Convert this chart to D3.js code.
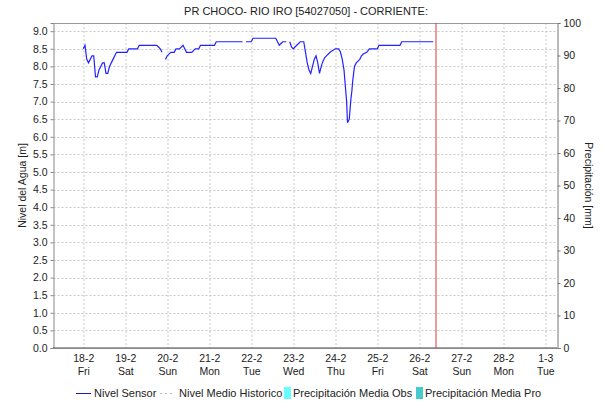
<!DOCTYPE html>
<html>
<head>
<meta charset="utf-8">
<script src="https://cdn.jsdelivr.net/npm/d3@7"></script>
<style>
  body { margin: 0; background: #fff; }
  text { font-family: "Liberation Sans", Arial, sans-serif; fill: #222; }
</style>
</head>
<body>
<svg id="chart" width="603" height="404"></svg>
<script>
// level readings of the sensor (null = no data, breaks the line)
const sensorTimes = [
  "02-18 00:00", "02-18 01:00", "02-18 02:00", "02-18 03:00", "02-18 04:00", "02-18 05:00",
  "02-18 06:00", "02-18 07:00", "02-18 08:00", "02-18 09:00", "02-18 10:00", "02-18 11:00",
  "02-18 12:00", "02-18 13:00", "02-18 14:00", "02-18 15:00", "02-18 16:00", "02-18 17:00",
  "02-18 18:00", "02-18 19:00", "02-19 01:00", "02-19 02:00", "02-19 07:00", "02-19 08:00",
  "02-19 18:00", "02-19 19:00", "02-19 20:00", "02-19 21:00", "02-19 22:00", "02-19 23:00",
  "02-20 00:00", "02-20 01:00", "02-20 02:00", "02-20 04:00", "02-20 05:00", "02-20 07:00",
  "02-20 09:00", "02-20 10:00", "02-20 11:00", "02-20 14:00", "02-20 16:00", "02-20 18:00",
  "02-20 19:00", "02-21 03:00", "02-21 04:00", "02-21 19:00", "02-21 20:00", "02-21 21:00",
  "02-22 00:00", "02-22 01:00", "02-22 14:00", "02-22 16:00", "02-22 17:00", "02-22 18:00",
  "02-22 20:00", "02-22 21:00", "02-22 22:00", "02-22 23:00", "02-23 00:00", "02-23 01:00",
  "02-23 02:00", "02-23 04:00", "02-23 06:00", "02-23 07:00", "02-23 08:00", "02-23 09:00",
  "02-23 10:00", "02-23 11:00", "02-23 12:00", "02-23 13:00", "02-23 14:00", "02-23 15:00",
  "02-23 16:00", "02-23 17:00", "02-23 18:00", "02-23 19:00", "02-23 21:00", "02-24 00:00",
  "02-24 02:00", "02-24 03:00", "02-24 04:00", "02-24 05:00", "02-24 05:30", "02-24 06:00",
  "02-24 06:30", "02-24 07:00", "02-24 08:00", "02-24 08:30", "02-24 09:00", "02-24 09:30",
  "02-24 10:00", "02-24 10:30", "02-24 11:00", "02-24 12:00", "02-24 14:00", "02-24 15:00",
  "02-24 16:00", "02-24 18:00", "02-24 19:30", "02-25 00:00", "02-25 01:00", "02-25 13:00",
  "02-25 14:00", "02-26 08:00"
];
const sensorLevels = [
  8.5, 8.6, 8.2, 8.1, 8.2, 8.3,
  8.3, 7.7, 7.7, 7.9, 8.0, 8.1,
  8.1, 7.8, 7.8, 8.0, 8.1, 8.2,
  8.3, 8.4, 8.4, 8.5, 8.5, 8.6,
  8.6, 8.55, 8.5, 8.4, null, 8.2,
  8.3, 8.35, 8.4, 8.4, 8.5, 8.5,
  8.6, 8.5, 8.4, 8.4, 8.5, 8.5,
  8.6, 8.6, 8.7, 8.7, null, 8.7,
  8.7, 8.8, 8.8, 8.6, 8.65, 8.7,
  8.7, null, 8.7, 8.55, 8.5, 8.55,
  8.6, 8.7, 8.7, 8.4, 8.1, 7.9,
  7.8, 8.0, 8.2, 8.3, 8.1, 7.8,
  8.0, 8.15, 8.25, 8.3, 8.4, 8.5,
  8.5, 8.4, 8.2, 7.9, 7.6, 7.3,
  7.0, 6.4, 6.5, 6.8, 7.1, 7.3,
  7.6, 7.8, 8.0, 8.1, 8.2, 8.3,
  8.35, 8.4, 8.5, 8.5, 8.6, 8.6,
  8.7, 8.7
];
const levelTicks = d3.range(0, 9.01, 0.5);
const precipTicks = d3.range(0, 101, 10);
const dayNames = ["Sun", "Mon", "Tue", "Wed", "Thu", "Fri", "Sat"];
const nowTime = "02-26 09:00";
const startTime = "02-17 07:00";
const endTime = "03-01 07:00";

const parse = (s) => d3.timeParse("%Y-%m-%d %H:%M")("2022-" + s);

const margin = { top: 23, right: 45.5, bottom: 56, left: 53.5 };
const width = 603 - margin.left - margin.right;
const height = 404 - margin.top - margin.bottom;

const svg = d3.select("#chart");
svg.append("rect").attr("width", 603).attr("height", 404).attr("fill", "#fff");

const g = svg.append("g").attr("transform", `translate(${margin.left},${margin.top})`);

const x = d3.scaleTime().domain([parse(startTime), parse(endTime)]).range([0, width]);
const y = d3.scaleLinear().domain([0, 9.233]).range([height, 0]);
const yPrecip = d3.scaleLinear().domain([0, 100]).range([height, 0]);

const days = d3.timeDay.range(parse("02-18 00:00"), parse(endTime));

// grid
g.append("g")
  .selectAll("line")
  .data(days)
  .join("line")
  .attr("x1", (d) => Math.round(x(d)) + 0.5)
  .attr("x2", (d) => Math.round(x(d)) + 0.5)
  .attr("y1", 0)
  .attr("y2", height)
  .attr("stroke", "#c8c8c8")
  .attr("stroke-dasharray", "2,2");

g.append("g")
  .selectAll("line")
  .data(levelTicks.slice(1))
  .join("line")
  .attr("x1", 0)
  .attr("x2", width)
  .attr("y1", (d) => Math.round(y(d)) + 0.5)
  .attr("y2", (d) => Math.round(y(d)) + 0.5)
  .attr("stroke", "#c8c8c8")
  .attr("stroke-dasharray", "2,2");

// frame
g.append("line").attr("x1", 0).attr("x2", width).attr("y1", 0.5).attr("y2", 0.5).attr("stroke", "#999");

// left axis
const yAxis = g.append("g")
  .call(d3.axisLeft(y).tickValues(levelTicks).tickFormat(d3.format(".1f")).tickSize(3).tickPadding(3));
yAxis.select(".domain").attr("stroke", "#888");
yAxis.selectAll(".tick line").attr("stroke", "#888");
yAxis.selectAll("text").style("font-size", "10.5px").attr("fill", "#222");

// right axis
const yAxisR = g.append("g")
  .attr("transform", `translate(${width},0)`)
  .call(d3.axisRight(yPrecip).tickValues(precipTicks).tickSize(3).tickPadding(3));
yAxisR.select(".domain").attr("stroke", "#777");
yAxisR.selectAll(".tick line").attr("stroke", "#777");
yAxisR.selectAll("text").style("font-size", "10.5px").attr("fill", "#222");

// bottom axis
const xAxis = g.append("g")
  .attr("transform", `translate(0,${height})`)
  .call(d3.axisBottom(x).tickValues(days).tickSize(0).tickFormat(""));
xAxis.select(".domain").attr("stroke", "#888");
xAxis.selectAll(".tick").each(function (d) {
  const t = d3.select(this).append("text")
    .attr("text-anchor", "middle")
    .style("font-size", "10.5px")
    .attr("fill", "#222");
  t.append("tspan").attr("x", 0).attr("y", 14).text(d3.timeFormat("%-d-%-m")(d));
  t.append("tspan").attr("x", 0).attr("y", 27).text(dayNames[d.getDay()]);
});

// historic mean / zero precipitation along the base
g.append("line")
  .attr("x1", 0).attr("x2", width)
  .attr("y1", y(0) - 0.5).attr("y2", y(0) - 0.5)
  .attr("stroke", "#444")
  .attr("stroke-dasharray", "1,1");

// sensor line
const sensorData = sensorTimes.map((t, i) => ({ date: parse(t), value: sensorLevels[i] }));
const line = d3.line()
  .defined((d) => d.value !== null)
  .x((d) => x(d.date))
  .y((d) => y(d.value));

g.append("path")
  .datum(sensorData)
  .attr("fill", "none")
  .attr("stroke", "#2222ff")
  .attr("stroke-width", 1.2)
  .attr("d", line);

// current time marker
g.append("line")
  .attr("x1", Math.round(x(parse(nowTime))) + 0.5)
  .attr("x2", Math.round(x(parse(nowTime))) + 0.5)
  .attr("y1", 0)
  .attr("y2", height)
  .attr("stroke", "#d83a3a");

// titles
svg.append("text")
  .attr("x", 306)
  .attr("y", 15)
  .attr("text-anchor", "middle")
  .style("font-size", "11px")
  .text("PR CHOCO- RIO IRO [54027050] - CORRIENTE:");

svg.append("text")
  .attr("transform", `translate(26,${margin.top + height / 2}) rotate(-90)`)
  .attr("text-anchor", "middle")
  .style("font-size", "10.5px")
  .text("Nivel del Agua [m]");

svg.append("text")
  .attr("transform", `translate(585,${margin.top + height / 2}) rotate(90)`)
  .attr("text-anchor", "middle")
  .style("font-size", "10.5px")
  .text("Precipitación [mm]");

// legend
const legend = svg.append("g").attr("transform", "translate(0,393)");
legend.append("line").attr("x1", 76).attr("x2", 91).attr("y1", 0.5).attr("y2", 0.5).attr("stroke", "#1c1cb4");
legend.append("text").attr("x", 94).attr("y", 4).style("font-size", "11px").text("Nivel Sensor");
legend.append("line").attr("x1", 160).attr("x2", 175).attr("y1", 0.5).attr("y2", 0.5)
  .attr("stroke", "#bbb").attr("stroke-dasharray", "2,3");
legend.append("text").attr("x", 179).attr("y", 4).style("font-size", "11px").text("Nivel Medio Historico");
legend.append("rect").attr("x", 284).attr("y", -6).attr("width", 7).attr("height", 12).attr("fill", "#66ffff");
legend.append("text").attr("x", 293).attr("y", 4).style("font-size", "11px").text("Precipitación Media Obs");
legend.append("rect").attr("x", 416).attr("y", -6).attr("width", 7).attr("height", 12).attr("fill", "#44cccc");
legend.append("text").attr("x", 425).attr("y", 4).style("font-size", "11px").text("Precipitación Media Pro");
</script>
</body>
</html>
